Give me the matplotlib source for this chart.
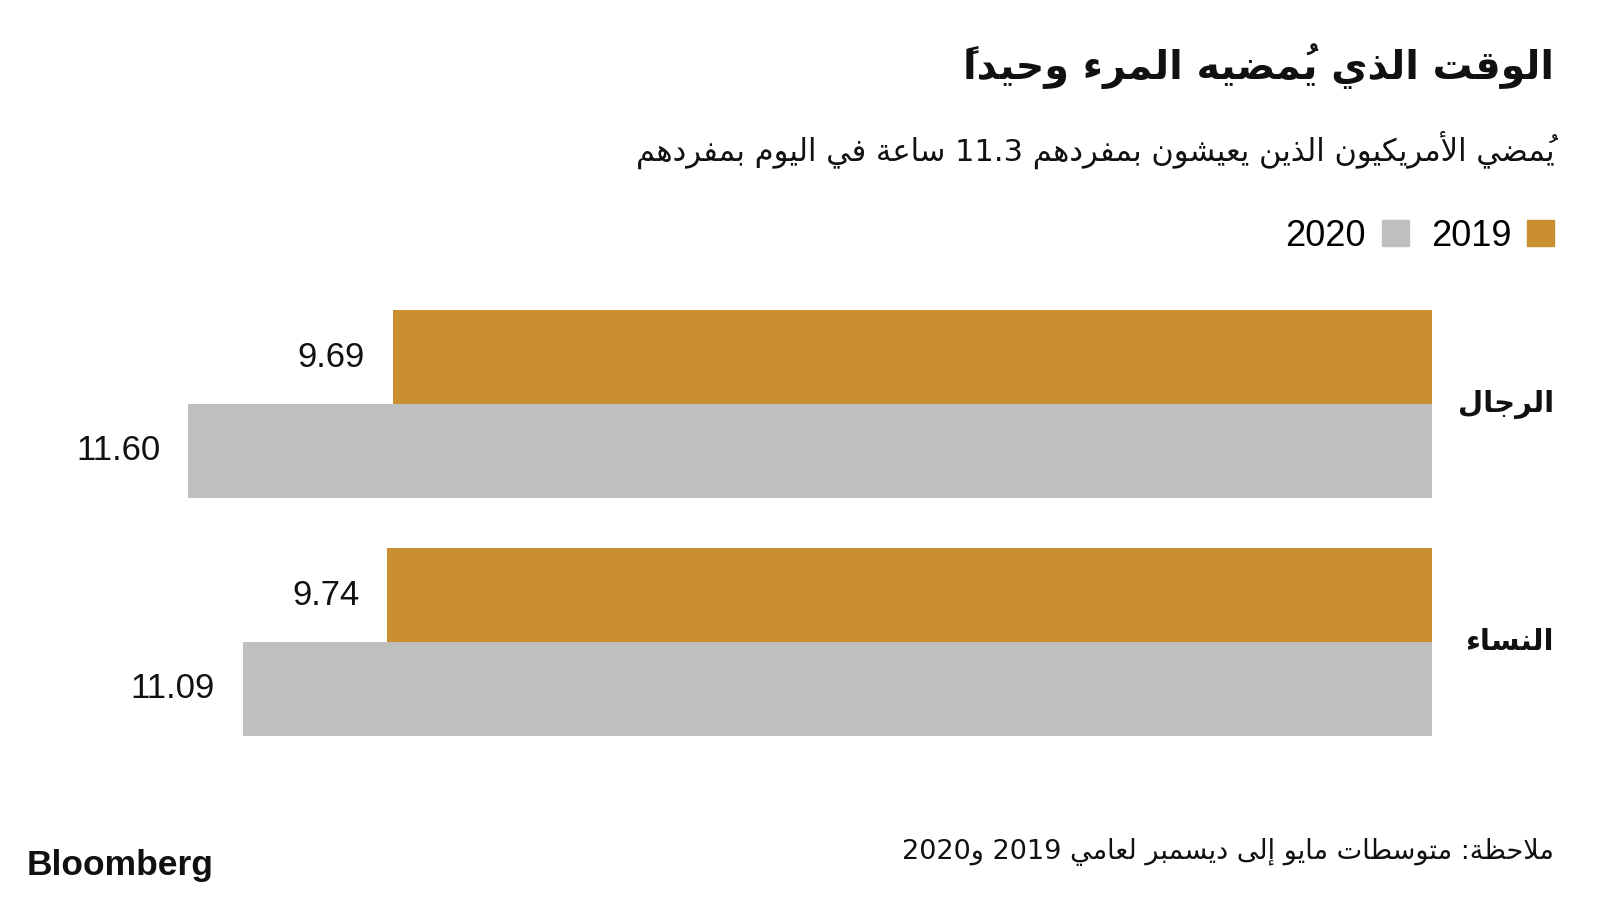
import re

import matplotlib.pyplot as plt
from matplotlib.patches import Patch
from matplotlib.transforms import blended_transform_factory

# ---- data -------------------------------------------------------------
categories = ["الرجال", "النساء"]
years = ["2019", "2020"]
hours_2019 = [9.69, 9.74]
hours_2020 = [11.60, 11.09]
year_colors = ["#C98F30", "#BFBFBF"]

title = "الوقت الذي يُمضيه المرء وحيداً"
subtitle = "يُمضي الأمريكيون الذين يعيشون بمفردهم 11.3 ساعة في اليوم بمفردهم"
note = "ملاحظة: متوسطات مايو إلى ديسمبر لعامي 2019 و2020"
source = "Bloomberg"

# ---- minimal arabic shaping (matplotlib has no shaping / bidi) ----------
RIGHT_JOIN = {0x0622: 0xFE81, 0x0623: 0xFE83, 0x0624: 0xFE85, 0x0625: 0xFE87,
              0x0627: 0xFE8D, 0x0629: 0xFE93, 0x062F: 0xFEA9, 0x0630: 0xFEAB,
              0x0631: 0xFEAD, 0x0632: 0xFEAF, 0x0648: 0xFEED, 0x0649: 0xFEEF}
DUAL_JOIN = {0x0626: 0xFE89, 0x0628: 0xFE8F, 0x062A: 0xFE95, 0x062B: 0xFE99,
             0x062C: 0xFE9D, 0x062D: 0xFEA1, 0x062E: 0xFEA5, 0x0633: 0xFEB1,
             0x0634: 0xFEB5, 0x0635: 0xFEB9, 0x0636: 0xFEBD, 0x0637: 0xFEC1,
             0x0638: 0xFEC5, 0x0639: 0xFEC9, 0x063A: 0xFECD, 0x0641: 0xFED1,
             0x0642: 0xFED5, 0x0643: 0xFED9, 0x0644: 0xFEDD, 0x0645: 0xFEE1,
             0x0646: 0xFEE5, 0x0647: 0xFEE9, 0x064A: 0xFEF1}
LAM_ALEF = {0x0622: 0xFEF5, 0x0623: 0xFEF7, 0x0625: 0xFEF9, 0x0627: 0xFEFB}


def is_mark(c):
    return 0x064B <= ord(c) <= 0x0652


def neighbour(chars, i, step):
    j = i + step
    while 0 <= j < len(chars) and is_mark(chars[j]):
        j += step
    return chars[j] if 0 <= j < len(chars) else None


def ar(text):
    chars = list(text)
    out = []
    i = 0
    while i < len(chars):
        c = chars[i]
        o = ord(c)
        if o not in RIGHT_JOIN and o not in DUAL_JOIN:
            out.append(c)
            i += 1
            continue
        prev = neighbour(chars, i, -1)
        nxt = neighbour(chars, i, 1)
        joins_prev = prev is not None and ord(prev) in DUAL_JOIN
        if o == 0x0644 and nxt is not None and ord(nxt) in LAM_ALEF:
            out.append(chr(LAM_ALEF[ord(nxt)] + (1 if joins_prev else 0)))
            i = chars.index(nxt, i + 1) + 1
            continue
        if o in RIGHT_JOIN:
            out.append(chr(RIGHT_JOIN[o] + (1 if joins_prev else 0)))
        else:
            joins_next = nxt is not None and (ord(nxt) in DUAL_JOIN or ord(nxt) in RIGHT_JOIN)
            form = {(False, False): 0, (True, False): 1,
                    (False, True): 2, (True, True): 3}[(joins_prev, joins_next)]
            out.append(chr(DUAL_JOIN[o] + form))
        i += 1
    shaped = "".join(out)
    tokens = re.findall(r"\d+(?:\.\d+)*|.[\u064B-\u0652]*", shaped)
    # visual order: runs reversed, a mark goes before its letter so it sits on it
    tokens = [t if t[0].isdigit() else t[::-1] for t in tokens]
    return "".join(reversed(tokens))


# ---- figure -----------------------------------------------------------
plt.rcParams["font.family"] = ["Liberation Sans", "DejaVu Sans"]
AR_FONT = ["DejaVu Sans"]
INK = "#111111"

fig = plt.figure(figsize=(16, 9), dpi=100)
W, H = 1600, 900
px_per_unit = 107.24
right_px = 1432

ax_top, ax_bot = 300, 746
ax = fig.add_axes([0, 1 - ax_bot / H, right_px / W, (ax_bot - ax_top) / H])
ax.set_xlim(right_px / px_per_unit, 0)
ax.set_ylim(1.437, -0.437)
ax.axis("off")

y = list(range(len(categories)))
bar_h = 0.393
ax.barh([v - bar_h / 2 for v in y], hours_2019, height=bar_h, color=year_colors[0], label=years[0])
ax.barh([v + bar_h / 2 for v in y], hours_2020, height=bar_h, color=year_colors[1], label=years[1])

for i in y:
    ax.annotate(f"{hours_2019[i]:.2f}", (hours_2019[i], i - bar_h / 2),
                xytext=(-20, 0), textcoords="offset points",
                ha="right", va="center", fontsize=25, color=INK)
    ax.annotate(f"{hours_2020[i]:.2f}", (hours_2020[i], i + bar_h / 2),
                xytext=(-20, 0), textcoords="offset points",
                ha="right", va="center", fontsize=25, color=INK)

lab_tr = blended_transform_factory(fig.transFigure, ax.transData)
for i, cat in enumerate(categories):
    ax.text(1554 / W, i, ar(cat), transform=lab_tr, ha="right", va="center",
            fontsize=21, fontweight="bold", family=AR_FONT, color=INK)

# title block
fig.text(1554 / W, 1 - 66 / H, ar(title), ha="right", va="center",
         fontsize=28.5, fontweight="bold", family=AR_FONT, color=INK)
fig.text(1554 / W, 1 - 150 / H, ar(subtitle), ha="right", va="center",
         fontsize=22, family=AR_FONT, color=INK)

# legend: "2020 ■  2019 ■" read right to left
handles = [Patch(color=year_colors[1], label=years[1]),
           Patch(color=year_colors[0], label=years[0])]
fig.legend(handles=handles, loc="center right", bbox_to_anchor=(1587 / W, 1 - 236 / H),
           ncol=2, frameon=False, markerfirst=False, fontsize=26,
           handlelength=0.75, handleheight=0.75, handletextpad=0.45, columnspacing=0.6)

# footer
fig.text(1554 / W, 1 - 852 / H, ar(note), ha="right", va="center",
         fontsize=19.5, family=AR_FONT, color=INK)
fig.text(27 / W, 1 - 866 / H, source, ha="left", va="center",
         fontsize=25.5, fontweight="bold", color=INK)

fig.savefig("out.png", dpi=100)
